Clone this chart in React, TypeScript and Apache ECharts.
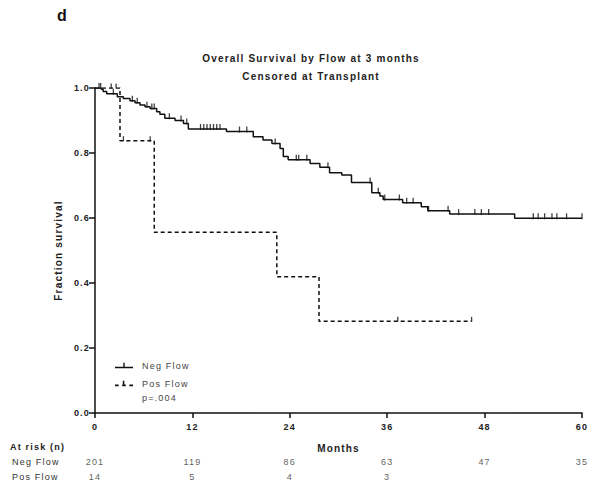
import React, { useEffect, useRef } from "react";
import * as echarts from "echarts";

// Kaplan-Meier step data (months, fraction surviving after that time)
const negMonths = [0, 0.8, 1.0, 1.44, 2.75, 3.49, 4.31, 4.93, 5.54, 6.16, 6.78, 7.6, 8.0, 8.6, 9.86, 10.9, 11.5, 16.2, 19.5, 20.7, 21.8, 22.8, 23.2, 23.8, 26.5, 27.7, 28.9, 30.4, 31.6, 34.1, 35.1, 35.5, 37.9, 40.2, 41.0, 43.7, 51.7, 60];
const negSurv = [1.0, 0.996, 0.989, 0.982, 0.973, 0.968, 0.961, 0.955, 0.948, 0.942, 0.937, 0.927, 0.919, 0.907, 0.9, 0.891, 0.874, 0.866, 0.85, 0.84, 0.829, 0.814, 0.789, 0.779, 0.768, 0.756, 0.739, 0.732, 0.709, 0.678, 0.668, 0.657, 0.647, 0.635, 0.622, 0.612, 0.599, 0.599];
const posMonths = [0, 3.08, 7.3, 22.4, 27.6, 46.4];
const posSurv = [1.0, 0.838, 0.556, 0.419, 0.282, 0.282];

// censored observations (months)
const negCensor = [0.5, 0.7, 2.26, 4.6, 5.2, 6.4, 7.0, 7.3, 9.16, 10.6, 11.3, 13.0, 13.4, 13.8, 14.2, 14.6, 15.0, 15.4, 17.8, 18.7, 22.2, 24.8, 25.1, 26.1, 28.7, 33.9, 34.9, 35.7, 37.5, 38.4, 39.2, 41.1, 43.5, 44.8, 46.8, 47.6, 48.5, 54.0, 54.6, 55.4, 56.3, 56.9, 58.1, 60.0];
const posCensor = [2.0, 2.6, 3.5, 6.8, 37.3, 46.4];

// numbers at risk
const riskMonths = [0, 12, 24, 36, 48, 60];
const negRisk = [201, 119, 86, 63, 47, 35];
const posRisk = [14, 5, 4, 3];

const xTicks = [0, 12, 24, 36, 48, 60];

const levelAt = (months: number[], surv: number[], t: number) => {
  let v = surv[0];
  for (let i = 0; i < months.length; i++) if (months[i] <= t) v = surv[i];
  return v;
};

const FONT = "Liberation Sans";
const ICON_SOLID = "path://M0,6 L18,6 L18,7.5 L0,7.5 Z M8.3,2 L9.7,2 L9.7,6 L8.3,6 Z";
const ICON_DASH = "path://M0,6 L3,6 L3,7.5 L0,7.5 Z M6,6 L9,6 L9,7.5 L6,7.5 Z M12,6 L15,6 L15,7.5 L12,7.5 Z M6.5,3 L7.8,3 L7.8,6 L6.5,6 Z";

export default function App() {
  const ref = useRef<HTMLDivElement>(null);
  useEffect(() => {
    if (!ref.current) return;
    const chart = echarts.init(ref.current, null, { renderer: "svg" });
    const negData = negMonths.map((m, i) => [m, negSurv[i]]);
    const posData = posMonths.map((m, i) => [m, posSurv[i]]);
    const negC = negCensor.map((m) => [m, levelAt(negMonths, negSurv, m)]);
    const posC = posCensor.map((m) => [m, levelAt(posMonths, posSurv, m)]);
    const riskData: any[] = [];
    negRisk.forEach((n, i) => riskData.push([riskMonths[i], "Neg Flow", n]));
    posRisk.forEach((n, i) => riskData.push([riskMonths[i], "Pos Flow", n]));

    chart.setOption({
      animation: false,
      textStyle: { fontFamily: FONT },
      title: {
        text: "Overall Survival by Flow at 3 months\nCensored at Transplant",
        left: 306,
        top: 44,
        textAlign: "center",
        textStyle: { fontSize: 10, fontWeight: "bold", color: "#222", lineHeight: 18, fontFamily: FONT },
      },
      legend: {
        data: [
          { name: "Neg Flow", icon: ICON_SOLID },
          { name: "Pos Flow", icon: ICON_DASH },
        ],
        orient: "vertical",
        left: 115,
        top: 361,
        padding: 0,
        itemWidth: 18,
        itemHeight: 9,
        itemGap: 9,
        itemStyle: { color: "#111" },
        textStyle: { fontSize: 9, color: "#444", fontFamily: FONT, padding: [0, 0, 0, 4] },
      },
      grid: [
        { left: 95, right: 18, top: 88, bottom: 77 },
        { left: 95, right: 18, top: 454, height: 30 },
      ],
      xAxis: [
        {
          type: "value",
          gridIndex: 0,
          min: 0,
          max: 60,
          interval: 12,
          name: "Months",
          nameLocation: "middle",
          nameGap: 30,
          nameTextStyle: { fontSize: 10, fontWeight: "bold", color: "#222", fontFamily: FONT },
          axisLine: { lineStyle: { color: "#111", width: 1.5 } },
          axisTick: { show: true, length: 5, lineStyle: { color: "#111", width: 1.5 } },
          axisLabel: { fontSize: 9, fontWeight: "bold", color: "#222", margin: 9, customValues: xTicks },
          splitLine: { show: false },
        },
        { type: "value", gridIndex: 1, min: 0, max: 60, show: false },
      ],
      yAxis: [
        {
          type: "value",
          gridIndex: 0,
          min: 0,
          max: 1,
          interval: 0.2,
          name: "Fraction survival",
          nameLocation: "middle",
          nameGap: 32,
          nameTextStyle: { fontSize: 10, fontWeight: "bold", color: "#222", fontFamily: FONT },
          axisLine: { show: true, lineStyle: { color: "#111", width: 1.5 } },
          axisTick: { show: true, length: 6, lineStyle: { color: "#111", width: 1.5 } },
          axisLabel: { fontSize: 9, fontWeight: "bold", color: "#222", margin: 5, formatter: (v: number) => v.toFixed(1) },
          splitLine: { show: false },
        },
        {
          type: "category",
          gridIndex: 1,
          data: ["Pos Flow", "Neg Flow"],
          axisLine: { show: false },
          axisTick: { show: false },
          axisLabel: { align: "left", margin: 83, fontSize: 9, color: "#333" },
        },
      ],
      series: [
        {
          name: "Neg Flow",
          type: "line",
          step: "end",
          data: negData,
          symbol: "none",
          lineStyle: { color: "#111", width: 1.5 },
          itemStyle: { color: "#111" },
        },
        {
          name: "Pos Flow",
          type: "line",
          step: "end",
          data: posData,
          symbol: "none",
          lineStyle: { color: "#111", width: 1.5, type: [4, 3] },
          itemStyle: { color: "#111" },
        },
        {
          name: "Neg censored",
          type: "scatter",
          data: negC,
          symbol: "rect",
          symbolSize: [1.3, 6],
          symbolOffset: [0, -2],
          itemStyle: { color: "#111" },
        },
        {
          name: "Pos censored",
          type: "scatter",
          data: posC,
          symbol: "rect",
          symbolSize: [1.3, 5],
          symbolOffset: [0, -2],
          itemStyle: { color: "#111" },
        },
        {
          name: "At risk",
          type: "scatter",
          xAxisIndex: 1,
          yAxisIndex: 1,
          data: riskData,
          symbolSize: 0,
          label: {
            show: true,
            position: "inside",
            fontSize: 9,
            color: "#333",
            formatter: (p: any) => String(p.value[2]),
          },
        },
      ],
      graphic: [
        { type: "text", left: 57, top: 7, style: { text: "d", font: `bold 16px ${FONT}`, fill: "#111" } },
        { type: "text", left: 142, top: 393, style: { text: "p=.004", font: `9px ${FONT}`, fill: "#444" } },
        { type: "text", left: 10, top: 442, style: { text: "At risk (n)", font: `bold 9px ${FONT}`, fill: "#222" } },
      ],
    });
    return () => chart.dispose();
  }, []);
  return (
    <>
      <style>{`.km-chart text { letter-spacing: 1.2px; }`}</style>
      <div className="km-chart" ref={ref} style={{ width: 600, height: 490, position: "absolute", left: 0, top: 0 }} />
    </>
  );
}
